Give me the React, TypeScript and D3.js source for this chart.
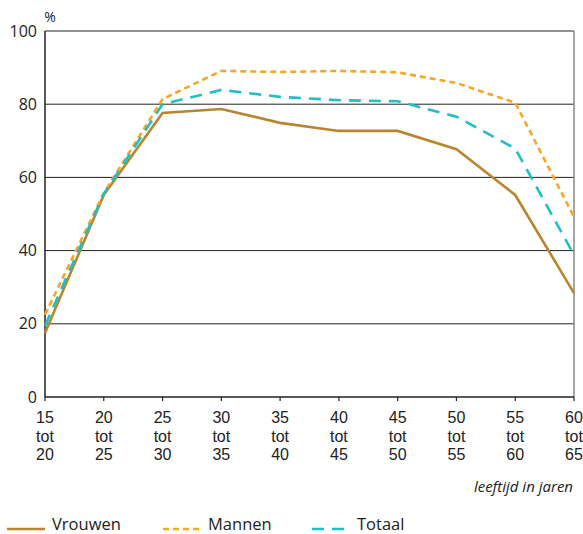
import React from "react";
import * as d3 from "d3";

const categories = ["15", "20", "25", "30", "35", "40", "45", "50", "55", "60"];
const categoryEnds = ["20", "25", "30", "35", "40", "45", "50", "55", "60", "65"];
const vrouwen = [17.5, 55.2, 77.6, 78.7, 74.9, 72.7, 72.7, 67.7, 55.2, 28.4];
const mannen = [22.5, 55.7, 81.4, 89.1, 88.8, 89.1, 88.7, 85.8, 80.4, 49.2];
const totaal = [19.5, 55.5, 80.0, 83.9, 82.0, 81.1, 80.8, 76.6, 67.9, 38.8];
const yTicks = [0, 20, 40, 60, 80, 100];

const FONT = "'Open Sans', 'Noto Sans', sans-serif";
const TICKFONT = "'Liberation Sans', Arial, sans-serif";

export default function App() {
  const W = 583, H = 534;
  const left = 45, right = 574, top = 31, bottom = 397;
  const x = d3.scalePoint<string>().domain(categories).range([left, right]);
  const y = d3.scaleLinear().domain([0, 100]).range([bottom, top]);
  const line = d3.line<number>().x((_, i) => x(categories[i])!).y((d) => y(d));

  const series = [
    { name: "Vrouwen", data: vrouwen, color: "#b8862f", dash: undefined as string | undefined },
    { name: "Mannen", data: mannen, color: "#f7a626", dash: "6 4" },
    { name: "Totaal", data: totaal, color: "#1fbfc6", dash: "12 8" },
  ];
  const legendX = [7, 163, 312];

  return (
    <svg width={W} height={H} style={{ position: "absolute", left: 0, top: 0 }} fontFamily={FONT}>
      <rect x={0} y={0} width={W} height={H} fill="#fff" />
      {yTicks.filter((t) => t > 0).map((t) => (
        <line key={t} x1={left} x2={right} y1={y(t)} y2={y(t)} stroke="#222" strokeWidth={1} />
      ))}
      <line x1={right} x2={right} y1={top} y2={bottom} stroke="#888" strokeWidth={1.5} />
      <line x1={left} x2={left} y1={top} y2={bottom} stroke="#222" strokeWidth={1.5} />
      <line x1={left} x2={right} y1={bottom} y2={bottom} stroke="#222" strokeWidth={1.5} />
      {categories.map((c) => (
        <line key={c} x1={x(c)!} x2={x(c)!} y1={bottom} y2={bottom + 4} stroke="#222" strokeWidth={1.2} />
      ))}
      {yTicks.map((t) => (
        <text key={t} x={37} y={y(t) + 5.5} textAnchor="end" fontSize={16} fill="#222">{t}</text>
      ))}
      <text x={50} y={22} textAnchor="middle" fontSize={14} fill="#222">%</text>
      {categories.map((c, i) => (
        <text key={c} x={x(c)!} y={423} fontSize={16} fontFamily={TICKFONT} fill="#222" textAnchor="middle">
          <tspan x={x(c)!} dy={0}>{c}</tspan>
          <tspan x={x(c)!} dy={18.5}>tot</tspan>
          <tspan x={x(c)!} dy={18.5}>{categoryEnds[i]}</tspan>
        </text>
      ))}
      <text x={573} y={492} textAnchor="end" fontSize={15} fontStyle="italic" fill="#222">leeftijd in jaren</text>
      {series.map((s) => (
        <path key={s.name} d={line(s.data)!} fill="none" stroke={s.color} strokeWidth={2.6}
          strokeDasharray={s.dash} />
      ))}
      {series.map((s, i) => (
        <g key={s.name}>
          <line x1={legendX[i]} x2={legendX[i] + 38} y1={529} y2={529} stroke={s.color} strokeWidth={2.6}
            strokeDasharray={s.dash} />
          <text x={legendX[i] + 45} y={530} fontSize={16.5} fill="#222">{s.name}</text>
        </g>
      ))}
    </svg>
  );
}
